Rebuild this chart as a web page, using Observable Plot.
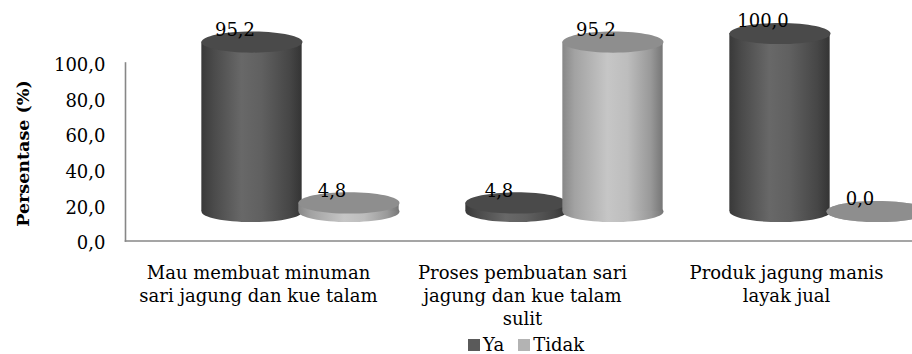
<!DOCTYPE html>
<html>
<head>
<meta charset="utf-8">
<script src="https://cdn.jsdelivr.net/npm/d3@7"></script>
<script src="https://cdn.jsdelivr.net/npm/@observablehq/plot@0.6"></script>
<style>
  html, body { margin: 0; padding: 0; background: #fff; overflow: hidden; }
  #chart { width: 912px; }
  .legend {
    display: flex; justify-content: center; align-items: baseline;
    margin-left: 140px; height: 24px; line-height: 24px;
    font: 18px "DejaVu Serif", serif; color: #000;
  }
  .legend .item { display: inline-flex; align-items: baseline; margin: 0 7px; }
  .legend .sw { display: inline-block; width: 12px; height: 12px; margin-right: 3px; }
</style>
</head>
<body>
<div id="chart"></div>
<script>
// Survey answers (percent) per statement
const categories = [
  "Mau membuat minuman\nsari jagung dan kue talam",
  "Proses pembuatan sari\njagung dan kue talam\nsulit",
  "Produk jagung manis\nlayak jual"
];
const seriesNames = ["Ya", "Tidak"];
const ya = [95.2, 4.8, 100.0];
const tidak = [4.8, 95.2, 0.0];
const yTicks = [0, 20, 40, 60, 80, 100];

const rows = categories.flatMap((c, i) => [
  {category: c, series: "Ya", value: ya[i]},
  {category: c, series: "Tidak", value: tidak[i]}
]);

const fmt = v => d3.format(".1f")(v).replace(".", ",");

// layout & style
const W = 912, H = 334;
const xRange = [125, 919];
const step = (xRange[1] - xRange[0]) / categories.length;
const cylW = 101;
const inset = (step - cylW) / 2;
const depthDx = 42, depthDy = -29.5;   // 3D depth shift of the cylinders
const pair = 48.5;                     // half distance between the two cylinders
const tilt = -4.5;                     // perspective tilt of the ellipses (deg)
const look = {
  Ya:    {dx: depthDx - pair, side: "url(#sideYa)", top: "#4a4a4a", swatch: "#5a5a5a"},
  Tidak: {dx: depthDx + pair, side: "url(#sideTidak)", top: "#8e8e8e", swatch: "#b3b3b3"}
};

// ellipse symbol: size = r²π, horizontal radius r, vertical radius r*0.21
const ellipse = {
  draw(ctx, size) {
    const rx = Math.sqrt(size / Math.PI), ry = rx * 0.21, k = 0.5523;
    ctx.moveTo(rx, 0);
    ctx.bezierCurveTo(rx, ry * k, rx * k, ry, 0, ry);
    ctx.bezierCurveTo(-rx * k, ry, -rx, ry * k, -rx, 0);
    ctx.bezierCurveTo(-rx, -ry * k, -rx * k, -ry, 0, -ry);
    ctx.bezierCurveTo(rx * k, -ry, rx, -ry * k, rx, 0);
    ctx.closePath();
  }
};

function cylinder(name) {
  const data = rows.filter(d => d.series === name);
  const s = look[name];
  const o = {x: "category", dx: s.dx, dy: depthDy, ariaLabel: "cylinder"};
  return [
    Plot.dot(data, {...o, y: () => 0, r: cylW / 2, symbol: ellipse, fill: s.side, stroke: null}),
    Plot.barY(data, {...o, y: "value", insetLeft: inset, insetRight: inset, fill: s.side}),
    Plot.dot(data, {...o, y: "value", r: cylW / 2, symbol: ellipse, fill: s.top, stroke: null})
  ];
}

function valueLabels(name) {
  const data = rows.filter(d => d.series === name);
  return Plot.text(data, {
    x: "category", y: "value", text: d => fmt(d.value),
    dx: look[name].dx - 17, dy: depthDy - 12, fontSize: 18, fill: "#000"
  });
}

const chart = Plot.plot({
  width: W,
  height: H,
  marginLeft: 125,
  marginRight: 0,
  marginTop: 62.5,
  marginBottom: H - 240.5,
  style: {fontFamily: "DejaVu Serif", fontSize: "18px", color: "#000", background: "#fff"},
  x: {domain: categories, range: xRange, padding: 0},
  y: {domain: [0, 100]},
  marks: [
    Plot.frame({anchor: "left", stroke: "#878787", strokeWidth: 1.6}),
    Plot.frame({anchor: "bottom", stroke: "#878787", strokeWidth: 1.6}),
    Plot.axisY({ticks: yTicks, tickSize: 0, tickPadding: 20, tickFormat: fmt, dy: 2.5, fontSize: 18, label: null}),
    Plot.axisX({tickSize: 0, tickPadding: 22, lineHeight: 1.278, fontSize: 18, label: null}),
    Plot.text(["Persentase (%)"], {frameAnchor: "left", textAnchor: "middle", rotate: -90, dx: -102, dy: 1.5, fontWeight: "bold", fontSize: 17.5}),
    ...seriesNames.flatMap(cylinder),
    ...seriesNames.map(valueLabels)
  ]
});

// gradients for the cylinder sides
const svg = d3.select(chart.tagName.toLowerCase() === "svg" ? chart : chart.querySelector("svg"));
const defs = svg.insert("defs", ":first-child");
function gradient(id, stops) {
  const g = defs.append("linearGradient").attr("id", id).attr("x1", 0).attr("x2", 1).attr("y1", 0).attr("y2", 0);
  stops.forEach(([o, c]) => g.append("stop").attr("offset", o).attr("stop-color", c));
}
gradient("sideYa", [[0, "#393939"], [0.12, "#4a4a4a"], [0.4, "#686868"], [0.6, "#606060"], [0.88, "#464646"], [1, "#343434"]]);
gradient("sideTidak", [[0, "#878787"], [0.12, "#a2a2a2"], [0.45, "#c6c6c6"], [0.65, "#bdbdbd"], [0.88, "#999999"], [1, "#767676"]]);

// tilt each cylinder piece around its own vertical axis
svg.selectAll('g[aria-label="cylinder"] > rect').each(function() {
  const cx = +this.getAttribute("x") + +this.getAttribute("width") / 2;
  this.setAttribute("transform", `translate(${cx},0) skewY(${tilt}) translate(${-cx},0)`);
});
svg.selectAll('g[aria-label="cylinder"] > path').each(function() {
  const t = this.getAttribute("transform") || "";
  this.setAttribute("transform", `${t} skewY(${tilt})`);
});

document.getElementById("chart").appendChild(chart);

// legend
const legend = document.createElement("div");
legend.className = "legend";
seriesNames.forEach(n => {
  const item = document.createElement("span");
  item.className = "item";
  const sw = document.createElement("span");
  sw.className = "sw";
  sw.style.background = look[n].swatch;
  item.appendChild(sw);
  item.appendChild(document.createTextNode(n));
  legend.appendChild(item);
});
document.getElementById("chart").appendChild(legend);
</script>
</body>
</html>
